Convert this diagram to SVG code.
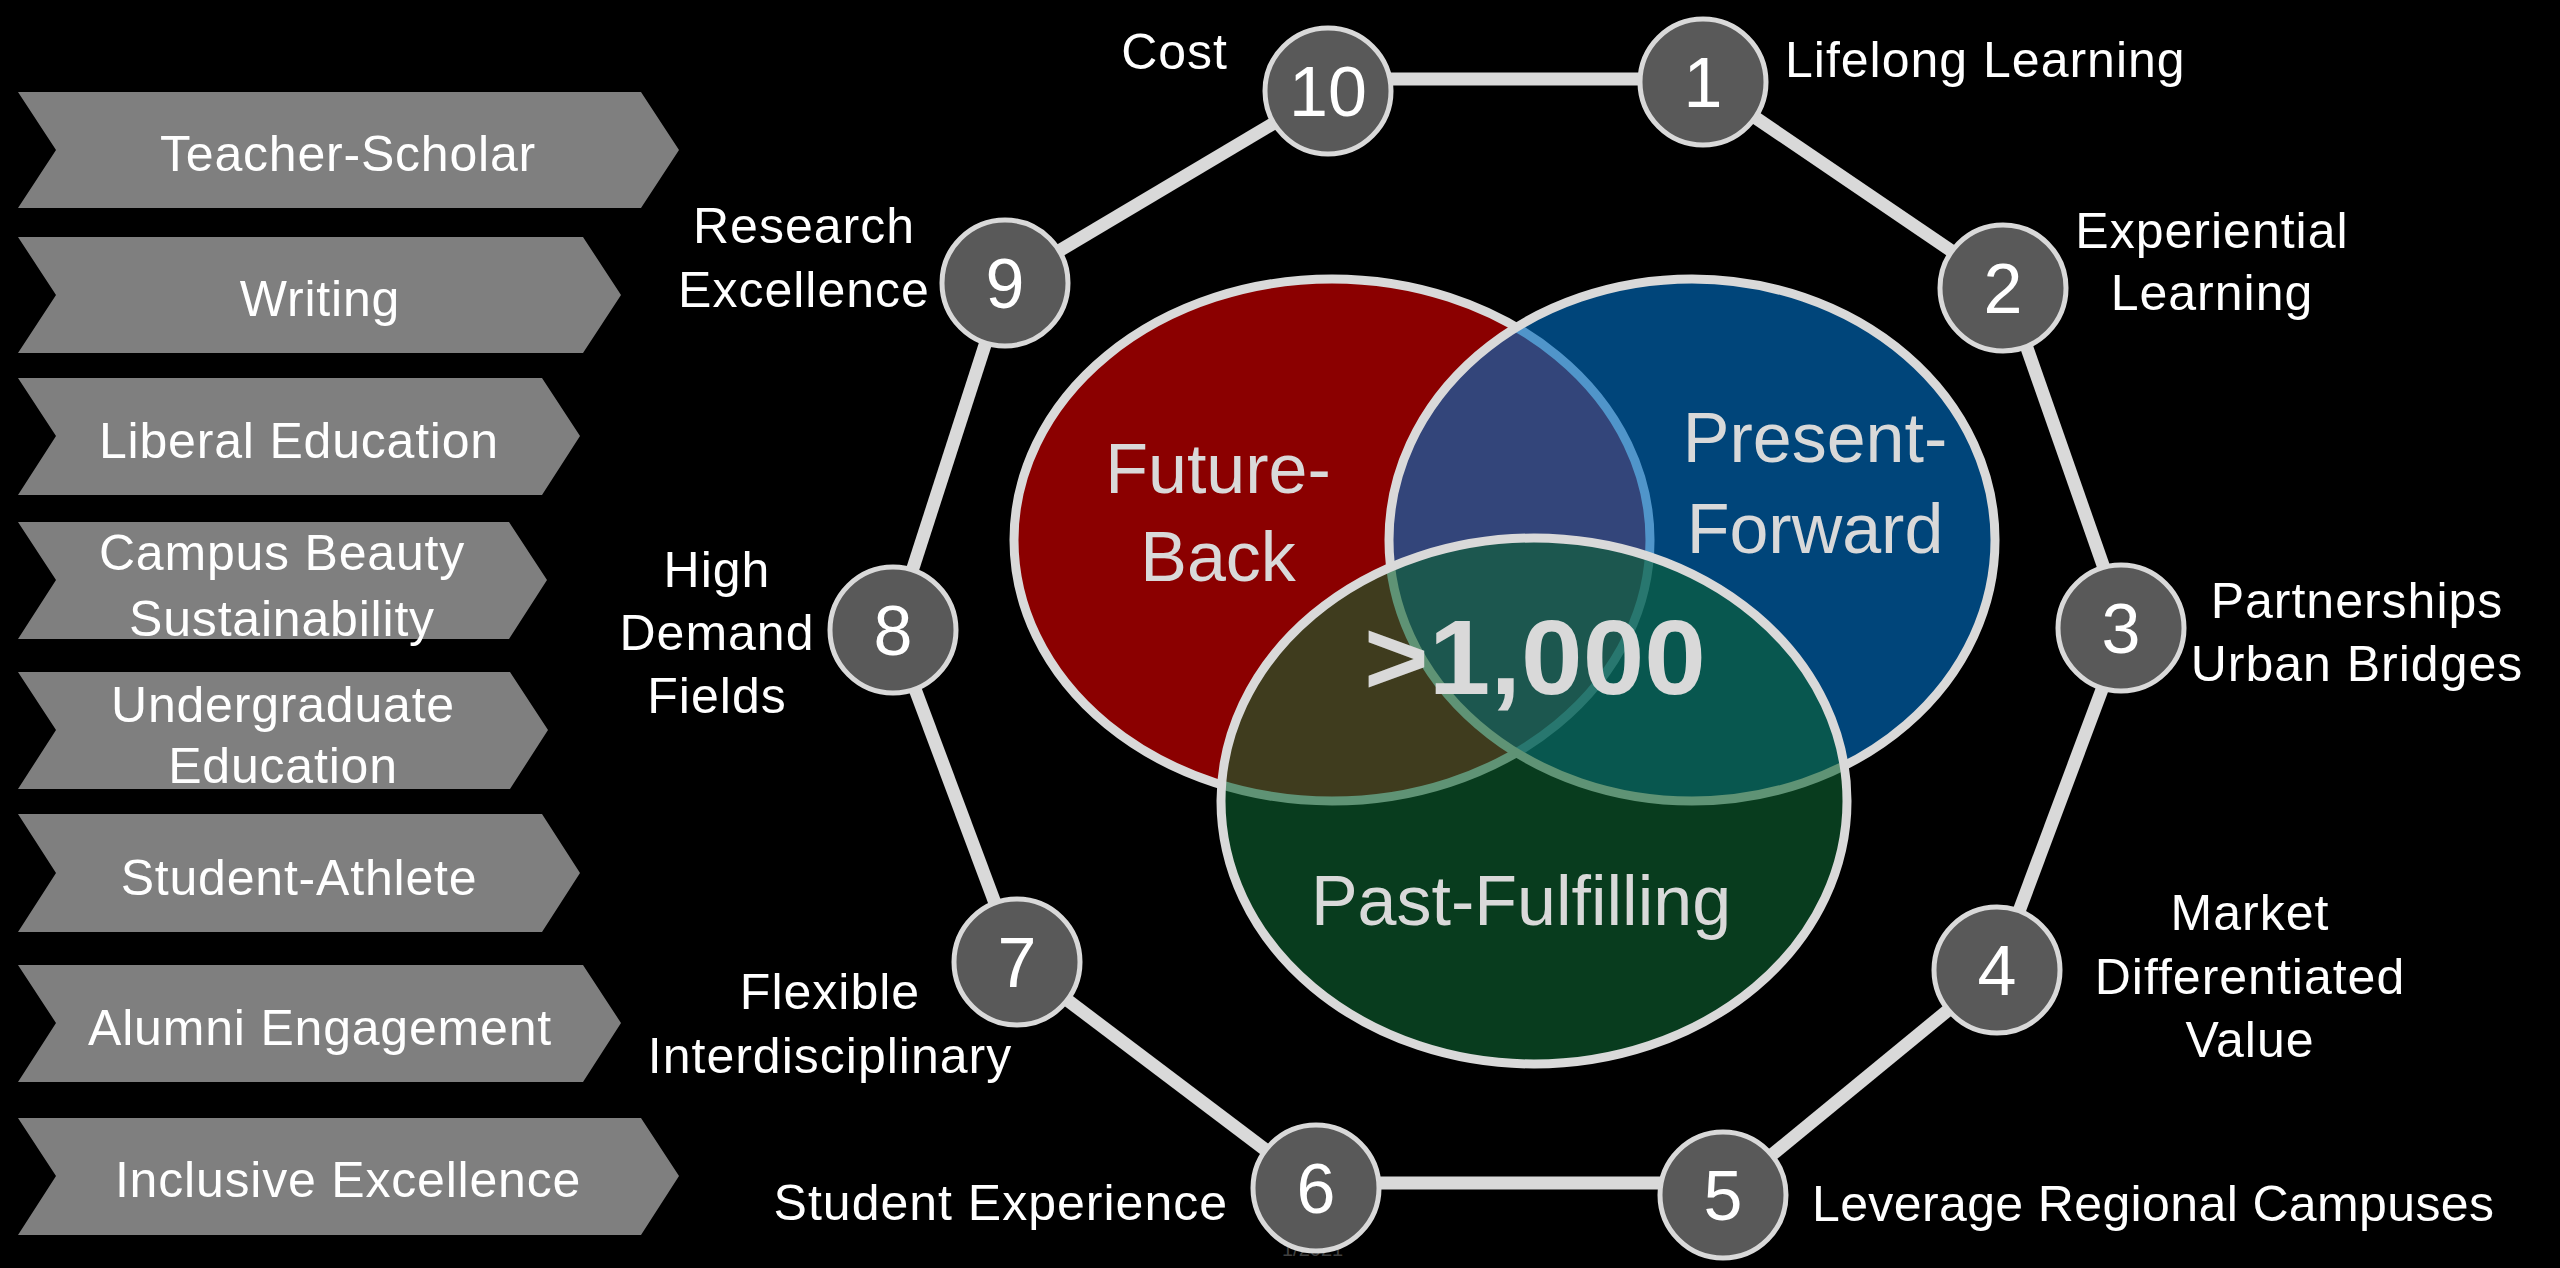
<svg xmlns="http://www.w3.org/2000/svg" width="2560" height="1268" viewBox="0 0 2560 1268">
<style>
  .bg { fill: #000000; }
  .chev { fill: #7f7f7f; }
  .ctext { font-family: "Liberation Sans", Arial, sans-serif; font-size: 50px; letter-spacing: 0.8px; fill: #ffffff; text-anchor: middle; }
  .lbl { font-family: "Liberation Sans", Arial, sans-serif; font-size: 50px; letter-spacing: 1px; fill: #ffffff; }
  .mid { text-anchor: middle; }
  .end { text-anchor: end; }
  .conn { stroke: #d9d9d9; stroke-width: 13; stroke-linecap: butt; }
  .num { fill: #595959; stroke: #d9d9d9; stroke-width: 5; }
  .numt { font-family: "Liberation Sans", Arial, sans-serif; font-size: 70px; fill: #ffffff; text-anchor: middle; }
  .venn { stroke: #d9d9d9; stroke-width: 9; }
  .vtext { font-family: "Liberation Sans", Arial, sans-serif; font-size: 70px; fill: #d9d9d9; text-anchor: middle; }
  .big { font-family: "Liberation Sans", Arial, sans-serif; font-size: 106px; font-weight: bold; fill: #d9d9d9; text-anchor: middle; }
  .foot { font-family: "Liberation Sans", Arial, sans-serif; font-size: 20px; fill: #404040; }
</style>
<rect class="bg" x="0" y="0" width="2560" height="1268"/>

<g id="chevrons">
  <g id="chev-teacher-scholar">
    <path class="chev" d="M18,92 L641,92 L679,150 L641,208 L18,208 L56,150 Z"/>
    <text class="ctext" x="348" y="171">Teacher-Scholar</text>
  </g>
  <g id="chev-writing">
    <path class="chev" d="M18,237 L583,237 L621,295 L583,353 L18,353 L56,295 Z"/>
    <text class="ctext" x="320" y="316">Writing</text>
  </g>
  <g id="chev-liberal-education">
    <path class="chev" d="M18,378 L542,378 L580,436 L542,495 L18,495 L56,436 Z"/>
    <text class="ctext" x="299" y="458">Liberal Education</text>
  </g>
  <g id="chev-campus-beauty">
    <path class="chev" d="M18,522 L509,522 L547,580 L509,639 L18,639 L56,580 Z"/>
    <text class="ctext" x="282" y="570">Campus Beauty</text>
    <text class="ctext" x="282" y="636">Sustainability</text>
  </g>
  <g id="chev-undergraduate">
    <path class="chev" d="M18,672 L510,672 L548,730 L510,789 L18,789 L56,730 Z"/>
    <text class="ctext" x="283" y="722">Undergraduate</text>
    <text class="ctext" x="283" y="783">Education</text>
  </g>
  <g id="chev-student-athlete">
    <path class="chev" d="M18,814 L542,814 L580,873 L542,932 L18,932 L56,873 Z"/>
    <text class="ctext" x="299" y="895">Student-Athlete</text>
  </g>
  <g id="chev-alumni">
    <path class="chev" d="M18,965 L583,965 L621,1023 L583,1082 L18,1082 L56,1023 Z"/>
    <text class="ctext" x="320" y="1045">Alumni Engagement</text>
  </g>
  <g id="chev-inclusive">
    <path class="chev" d="M18,1118 L641,1118 L679,1176 L641,1235 L18,1235 L56,1176 Z"/>
    <text class="ctext" x="348" y="1197">Inclusive Excellence</text>
  </g>
</g>

<g id="connectors">
  <line class="conn" x1="1328" y1="79" x2="1703" y2="79"/>
  <line class="conn" x1="1703" y1="82" x2="2006" y2="288"/>
  <line class="conn" x1="2006" y1="288" x2="2125" y2="628"/>
  <line class="conn" x1="2125" y1="628" x2="1997" y2="970"/>
  <line class="conn" x1="1997" y1="970" x2="1723" y2="1195"/>
  <line class="conn" x1="1723" y1="1183" x2="1316" y2="1183"/>
  <line class="conn" x1="1316" y1="1188" x2="1017" y2="962"/>
  <line class="conn" x1="1017" y1="962" x2="893" y2="630"/>
  <line class="conn" x1="893" y1="630" x2="1005" y2="283"/>
  <line class="conn" x1="1005" y1="283" x2="1328" y2="91"/>
</g>

<g id="venn">
  <g id="venn-future-back">
    <ellipse class="venn" cx="1332" cy="540" rx="318" ry="261" fill="#8b0000"/>
  </g>
  <g id="venn-present-forward">
    <ellipse class="venn" cx="1692" cy="540" rx="303" ry="261" fill="#006ec2" fill-opacity="0.63"/>
  </g>
  <g id="venn-past-fulfilling">
    <ellipse class="venn" cx="1534" cy="801" rx="313" ry="263" fill="#0d6432" fill-opacity="0.6"/>
  </g>
  <text class="vtext" x="1218" y="493">Future-</text>
  <text class="vtext" x="1218" y="581">Back</text>
  <text class="vtext" x="1815" y="462">Present-</text>
  <text class="vtext" x="1815" y="553">Forward</text>
  <text class="vtext" x="1521" y="925">Past-Fulfilling</text>
  <text class="big" x="1535" y="694" textLength="342" lengthAdjust="spacingAndGlyphs">&gt;1,000</text>
</g>

<text class="foot" x="1282" y="1256">1/2021</text>

<g id="node-1">
  <circle class="num" cx="1703" cy="82" r="63"/>
  <text class="numt" x="1703" y="107">1</text>
  <text class="lbl" x="1785" y="77">Lifelong Learning</text>
</g>
<g id="node-2">
  <circle class="num" cx="2003" cy="288" r="63"/>
  <text class="numt" x="2003" y="313">2</text>
  <text class="lbl mid" x="2212" y="248">Experiential</text>
  <text class="lbl mid" x="2212" y="310">Learning</text>
</g>
<g id="node-3">
  <circle class="num" cx="2121" cy="628" r="63"/>
  <text class="numt" x="2121" y="653">3</text>
  <text class="lbl mid" x="2357" y="618">Partnerships</text>
  <text class="lbl mid" x="2357" y="681">Urban Bridges</text>
</g>
<g id="node-4">
  <circle class="num" cx="1997" cy="970" r="63"/>
  <text class="numt" x="1997" y="995">4</text>
  <text class="lbl mid" x="2250" y="930">Market</text>
  <text class="lbl mid" x="2250" y="994">Differentiated</text>
  <text class="lbl mid" x="2250" y="1057">Value</text>
</g>
<g id="node-5">
  <circle class="num" cx="1723" cy="1195" r="63"/>
  <text class="numt" x="1723" y="1220">5</text>
  <text class="lbl" x="1812" y="1221" textLength="683" lengthAdjust="spacing">Leverage Regional Campuses</text>
</g>
<g id="node-6">
  <circle class="num" cx="1316" cy="1188" r="63"/>
  <text class="numt" x="1316" y="1213">6</text>
  <text class="lbl end" x="1228" y="1220">Student Experience</text>
</g>
<g id="node-7">
  <circle class="num" cx="1017" cy="962" r="63"/>
  <text class="numt" x="1017" y="987">7</text>
  <text class="lbl mid" x="830" y="1009">Flexible</text>
  <text class="lbl mid" x="830" y="1073">Interdisciplinary</text>
</g>
<g id="node-8">
  <circle class="num" cx="893" cy="630" r="63"/>
  <text class="numt" x="893" y="655">8</text>
  <text class="lbl mid" x="717" y="587">High</text>
  <text class="lbl mid" x="717" y="650">Demand</text>
  <text class="lbl mid" x="717" y="713">Fields</text>
</g>
<g id="node-9">
  <circle class="num" cx="1005" cy="283" r="63"/>
  <text class="numt" x="1005" y="308">9</text>
  <text class="lbl mid" x="804" y="243">Research</text>
  <text class="lbl mid" x="804" y="307">Excellence</text>
</g>
<g id="node-10">
  <circle class="num" cx="1328" cy="91" r="63"/>
  <text class="numt" x="1328" y="116">10</text>
  <text class="lbl end" x="1228" y="69">Cost</text>
</g>
</svg>
